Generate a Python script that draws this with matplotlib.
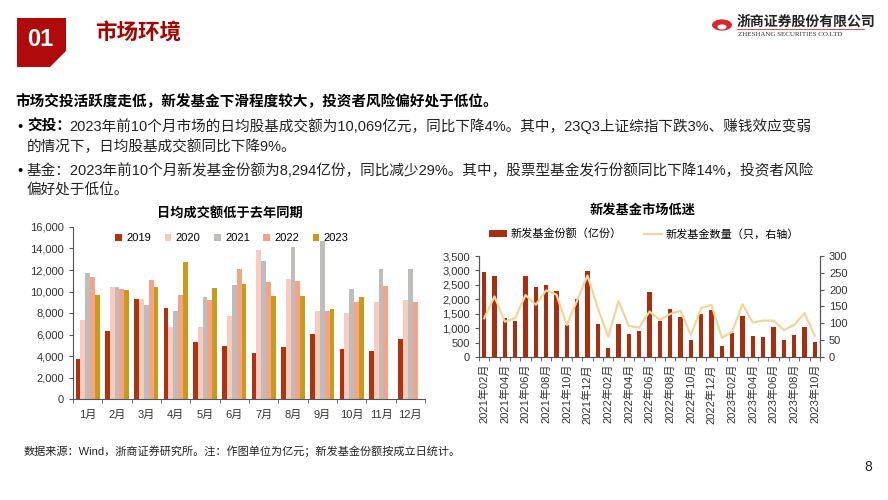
import numpy as np
import matplotlib.pyplot as plt
from matplotlib.patches import Polygon, Circle
from matplotlib.lines import Line2D
from matplotlib.ticker import FuncFormatter, FixedLocator

plt.rcParams['font.family'] = ['Liberation Sans', 'Noto Sans CJK SC', 'DejaVu Sans']
plt.rcParams['axes.unicode_minus'] = False

# Left chart: daily average turnover (亿元)
months = ['1月', '2月', '3月', '4月', '5月', '6月', '7月', '8月', '9月', '10月', '11月', '12月']
years = ['2019', '2020', '2021', '2022', '2023']
turnover_2019 = [3730, 6310, 9320, 8450, 5280, 4970, 4320, 4820, 6060, 4690, 4440, 5560]
turnover_2020 = [7360, 10410, 9320, 6740, 6740, 7740, 13890, 11190, 8230, 7990, 8980, 9230]
turnover_2021 = [11680, 10410, 8760, 8140, 9510, 10630, 12800, 14110, 14670, 10250, 12120, 12120]
turnover_2022 = [11370, 10220, 11090, 9690, 9230, 12090, 10910, 11000, 8200, 9010, 10530, 9040]
turnover_2023 = [9690, 10100, 10380, 12710, 10320, 10720, 9540, 9540, 8330, 9450]

# Right chart: new fund issuance
fund_months = ['2021年02月', '2021年03月', '2021年04月', '2021年05月', '2021年06月', '2021年07月',
               '2021年08月', '2021年09月', '2021年10月', '2021年11月', '2021年12月', '2022年01月',
               '2022年02月', '2022年03月', '2022年04月', '2022年05月', '2022年06月', '2022年07月',
               '2022年08月', '2022年09月', '2022年10月', '2022年11月', '2022年12月', '2023年01月',
               '2023年02月', '2023年03月', '2023年04月', '2023年05月', '2023年06月', '2023年07月',
               '2023年08月', '2023年09月', '2023年10月']
fund_share = [2950, 2820, 1360, 1260, 2820, 2430, 2480, 2280, 1100, 2020, 2980, 1160,
              310, 1160, 790, 890, 2250, 1250, 1670, 1390, 580, 1480, 1630, 380,
              840, 1410, 730, 690, 1040, 600, 760, 1040, 520]
fund_count = [115, 180, 105, 115, 184, 155, 198, 185, 95, 168, 242, 145,
              60, 166, 92, 87, 135, 110, 128, 137, 65, 145, 155, 57,
              75, 157, 102, 108, 108, 80, 95, 130, 63]

W, H = 888, 500
fig = plt.figure(figsize=(W / 100, H / 100), dpi=100)


def fx(x):
    return x / W


def fy(y):
    return 1 - y / H


def ftext(x, y, s, **kw):
    fig.text(fx(x), fy(y), s, **kw)


# ---- header ----
box = Polygon([(fx(17), fy(18)), (fx(66), fy(18)), (fx(66), fy(51)), (fx(50), fy(67)), (fx(17), fy(67))],
              closed=True, transform=fig.transFigure, facecolor='#B00A0A', edgecolor='none')
fig.add_artist(box)
ftext(40, 40, '01', color='white', fontsize=17, fontweight='bold', ha='center', va='center')
ftext(95, 34, '市场环境', color='#A80000', fontsize=15.5, fontweight='bold', ha='left', va='center')

# logo
fig.add_artist(Circle((fx(722), fy(25)), 10 / W, transform=fig.transFigure,
                      facecolor='#D7282F', edgecolor='none'))
fig.add_artist(Circle((fx(722), fy(27)), 4.5 / W, transform=fig.transFigure,
                      facecolor='white', edgecolor='none'))
ftext(737, 22, '浙商证券股份有限公司', color='#222222', fontsize=10, fontweight='bold', ha='left', va='center',
      family=['Noto Sans CJK SC'])
ftext(738, 34, 'ZHESHANG SECURITIES CO.LTD', color='#333333', fontsize=5, ha='left', va='center',
      family=['Liberation Serif'])
fig.add_artist(Line2D([fx(737), fx(864)], [fy(29), fy(29)], transform=fig.transFigure,
                      color='#D7282F', lw=0.6))

# ---- text block ----
ftext(15, 102, '市场交投活跃度走低，新发基金下滑程度较大，投资者风险偏好处于低位。',
      fontsize=10.5, fontweight='bold', color='black', va='center')
ftext(17, 131, '•', fontsize=10.5, va='baseline')
ftext(27, 131, '交投：', fontsize=10.5, fontweight='bold', va='baseline')
ftext(69, 131, '2023年前10个月市场的日均股基成交额为10,069亿元，同比下降4%。其中，23Q3上证综指下跌3%、赚钱效应变弱',
      fontsize=10.5, va='baseline', color='#222222')
ftext(27, 151, '的情况下，日均股基成交额同比下降9%。', fontsize=10.5, va='baseline', color='#222222')
ftext(17, 175, '•', fontsize=10.5, va='baseline')
ftext(27, 175, '基金：2023年前10个月新发基金份额为8,294亿份，同比减少29%。其中，股票型基金发行份额同比下降14%，投资者风险',
      fontsize=10.5, va='baseline', color='#222222')
ftext(27, 195, '偏好处于低位。', fontsize=10.5, va='baseline', color='#222222')

# ---- left chart ----
colors = ['#AE3410', '#F8CBBE', '#BFBDBA', '#F3A38A', '#C89B1B']
series = [turnover_2019, turnover_2020, turnover_2021, turnover_2022, turnover_2023]
ax1 = fig.add_axes([fx(73), fy(399), fx(425) - fx(73), fy(227) - fy(399)])
bw = 0.165
for i, (yr, vals, c) in enumerate(zip(years, series, colors)):
    x = np.arange(len(vals)) + (i - 2) * bw
    ax1.bar(x, vals, width=bw, color=c, label=yr, linewidth=0)
ax1.set_xlim(-0.5, len(months) - 0.5)
ax1.set_ylim(0, 16000)
ax1.set_yticks(np.arange(0, 16001, 2000))
ax1.yaxis.set_major_formatter(FuncFormatter(lambda v, p: f'{int(v):,}'))
ax1.set_xticks(np.arange(len(months)))
ax1.set_xticklabels(months)
ax1.xaxis.set_minor_locator(FixedLocator(np.arange(-0.5, len(months), 1)))
ax1.tick_params(axis='x', which='major', length=0, pad=8, labelsize=8, colors='#333333')
ax1.tick_params(axis='x', which='minor', length=3, color='#555555')
ax1.tick_params(axis='y', length=3, labelsize=8, colors='#333333', color='#555555')
for s in ['top', 'right']:
    ax1.spines[s].set_visible(False)
for s in ['left', 'bottom']:
    ax1.spines[s].set_color('#555555')
    ax1.spines[s].set_linewidth(0.8)
ax1.legend(loc='center', bbox_to_anchor=(fx(232), fy(238)), bbox_transform=fig.transFigure,
           ncol=5, frameon=False, fontsize=8, handlelength=0.6, handleheight=0.6,
           handletextpad=0.4, columnspacing=1.2)
ftext(230, 213, '日均成交额低于去年同期', fontsize=9.5, fontweight='bold', ha='center', va='center')

# ---- right chart ----
ax2 = fig.add_axes([fx(479), fy(357), fx(820) - fx(479), fy(256) - fy(357)])
xs = np.arange(len(fund_months))
ax2.bar(xs, fund_share, width=0.42, color='#A82E0F', linewidth=0, label='新发基金份额（亿份）')
ax2.set_xlim(-0.5, len(fund_months) - 0.5)
ax2.set_ylim(0, 3500)
ax2.set_yticks(np.arange(0, 3501, 500))
ax2.yaxis.set_major_formatter(FuncFormatter(lambda v, p: f'{int(v):,}'))
ax2.set_xticks(xs[::2])
ax2.set_xticklabels(fund_months[::2], rotation=90)
ax2.xaxis.set_minor_locator(FixedLocator(np.arange(-0.5, len(fund_months), 1)))
ax2.tick_params(axis='x', which='major', length=0, pad=5, labelsize=8, colors='#333333')
ax2.tick_params(axis='x', which='minor', length=3, color='#555555')
ax2.tick_params(axis='y', length=3, labelsize=8, colors='#333333', color='#555555')
ax3 = ax2.twinx()
ax3.plot(xs, fund_count, color='#F0D69C', lw=1.6, label='新发基金数量（只，右轴）')
ax3.set_ylim(0, 300)
ax3.set_yticks(np.arange(0, 301, 50))
ax3.tick_params(axis='y', length=3, labelsize=8, colors='#333333', color='#555555')
for a in (ax2, ax3):
    a.spines['top'].set_visible(False)
    for s in ['left', 'right', 'bottom']:
        a.spines[s].set_color('#555555')
        a.spines[s].set_linewidth(0.8)
h1, l1 = ax2.get_legend_handles_labels()
h2, l2 = ax3.get_legend_handles_labels()
ax3.legend(h1 + h2, l1 + l2, loc='center', bbox_to_anchor=(fx(644), fy(234)), bbox_transform=fig.transFigure,
           ncol=2, frameon=False, fontsize=8, handlelength=1.6, handleheight=0.6,
           handletextpad=0.3, columnspacing=2.0)
ftext(643, 210, '新发基金市场低迷', fontsize=9.5, fontweight='bold', ha='center', va='center')

# ---- footer ----
ftext(24, 451, '数据来源：Wind，浙商证券研究所。注：作图单位为亿元；新发基金份额按成立日统计。',
      fontsize=8, va='center', color='#222222')
ftext(868, 467, '8', fontsize=10, va='center', ha='center', color='#222222')

fig.savefig('out.png', dpi=100)
